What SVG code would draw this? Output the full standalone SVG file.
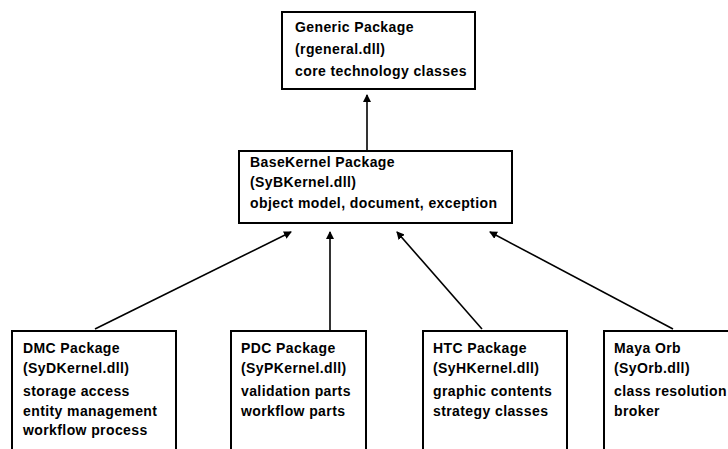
<svg xmlns="http://www.w3.org/2000/svg" width="728" height="449" viewBox="0 0 728 449">
  <style>
    .box { fill: #fff; stroke: #000; stroke-width: 2; }
    .lbl { font-family: "Liberation Sans", Arial, sans-serif; font-size: 14px; font-weight: bold; letter-spacing: 0.4px; fill: #000; }
    .dep { stroke: #000; stroke-width: 1.6; fill: none; marker-end: url(#head); }
  </style>
  <defs>
    <marker id="head" markerWidth="8" markerHeight="8" refX="7" refY="4" orient="auto" markerUnits="userSpaceOnUse">
      <path d="M0,0 L8,4 L0,8 Z" fill="#000"/>
    </marker>
  </defs>

  <rect width="728" height="449" fill="#fff"/>

  <!-- dependency arrows -->
  <g id="connectors">
    <line class="dep" x1="367" y1="150" x2="367" y2="95"/>
    <line class="dep" x1="95" y1="329" x2="291" y2="232"/>
    <line class="dep" x1="330" y1="330" x2="330" y2="232"/>
    <line class="dep" x1="482" y1="329" x2="397" y2="232"/>
    <line class="dep" x1="673" y1="329" x2="490" y2="232"/>
  </g>

  <g id="generic">
    <rect class="box" x="282" y="12" width="193" height="77"/>
    <text class="lbl" x="295" y="32">Generic Package</text>
    <text class="lbl" x="295" y="54">(rgeneral.dll)</text>
    <text class="lbl" x="295" y="76">core technology classes</text>
  </g>

  <g id="basekernel">
    <rect class="box" x="239" y="151" width="273" height="72"/>
    <text class="lbl" x="250" y="167">BaseKernel Package</text>
    <text class="lbl" x="250" y="187">(SyBKernel.dll)</text>
    <text class="lbl" x="250" y="208">object model, document, exception</text>
  </g>

  <g id="dmc">
    <rect class="box" x="12" y="331" width="164" height="130"/>
    <text class="lbl" x="23" y="353">DMC Package</text>
    <text class="lbl" x="23" y="373">(SyDKernel.dll)</text>
    <text class="lbl" x="23" y="396">storage access</text>
    <text class="lbl" x="23" y="416">entity management</text>
    <text class="lbl" x="23" y="435">workflow process</text>
  </g>

  <g id="pdc">
    <rect class="box" x="231" y="331" width="135" height="130"/>
    <text class="lbl" x="241" y="353">PDC Package</text>
    <text class="lbl" x="241" y="373">(SyPKernel.dll)</text>
    <text class="lbl" x="241" y="396">validation parts</text>
    <text class="lbl" x="241" y="416">workflow parts</text>
  </g>

  <g id="htc">
    <rect class="box" x="423" y="331" width="144" height="130"/>
    <text class="lbl" x="433" y="353">HTC Package</text>
    <text class="lbl" x="433" y="373">(SyHKernel.dll)</text>
    <text class="lbl" x="433" y="396">graphic contents</text>
    <text class="lbl" x="433" y="416">strategy classes</text>
  </g>

  <g id="mayaorb">
    <rect class="box" x="604" y="331" width="140" height="130"/>
    <text class="lbl" x="614" y="353">Maya Orb</text>
    <text class="lbl" x="614" y="373">(SyOrb.dll)</text>
    <text class="lbl" x="614" y="396">class resolution</text>
    <text class="lbl" x="614" y="416">broker</text>
  </g>
</svg>
